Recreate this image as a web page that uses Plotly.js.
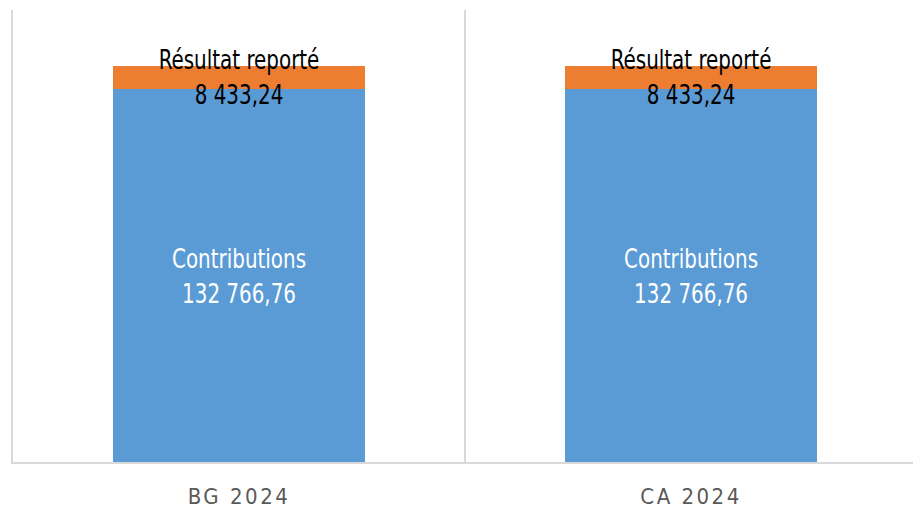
<!DOCTYPE html>
<html>
<head>
<meta charset="utf-8">
<script src="https://cdn.plot.ly/plotly-3.0.1.min.js"></script>
<style>
html, body { margin: 0; padding: 0; background: #fff; }
#chart .xtick text { letter-spacing: 2.5px; }
</style>
</head>
<body>
<div id="chart" style="width:913px;height:509px;"></div>
<script>
const categories = ["BG 2024", "CA 2024"];
const contributions = [132766.76, 132766.76];
const resultatReporte = [8433.24, 8433.24];
const seriesNames = ["Contributions", "Résultat reporté"];

const FONT = '"DejaVu Sans Condensed", "Liberation Sans", sans-serif';

function barTrace(values, name, color, textColor) {
  return {
    type: 'bar',
    name: name,
    x: categories,
    y: values,
    text: categories.map(() => name),
    marker: { color: color },
    width: 0.557,
    texttemplate: '%{text}<br>%{y:,.2f}',
    textposition: 'inside',
    insidetextanchor: 'middle',
    constraintext: 'none',
    textfont: { family: FONT, size: 27, color: textColor },
    cliponaxis: false,
    hoverinfo: 'none'
  };
}

const traces = [
  barTrace(contributions, seriesNames[0], '#5b9bd5', '#ffffff'),
  barTrace(resultatReporte, seriesNames[1], '#ed7d31', '#000000')
];

const layout = {
  width: 913,
  height: 509,
  barmode: 'stack',
  separators: ', ',
  showlegend: false,
  margin: { l: 13, r: 0, t: 10, b: 47 },
  paper_bgcolor: '#ffffff',
  plot_bgcolor: '#ffffff',
  font: { family: FONT },
  xaxis: {
    type: 'category',
    range: [-0.5, 1.491],
    tickson: 'boundaries',
    showgrid: true,
    gridcolor: '#d9d9d9',
    gridwidth: 2,
    showline: true,
    linecolor: '#d9d9d9',
    linewidth: 2,
    ticks: '',
    ticklabelstandoff: 14,
    tickfont: { family: FONT, size: 22, color: '#595959' },
    fixedrange: true
  },
  yaxis: {
    range: [0, 161000],
    showgrid: false,
    zeroline: false,
    showline: true,
    linecolor: '#d9d9d9',
    linewidth: 2,
    showticklabels: false,
    ticks: '',
    fixedrange: true
  }
};

Plotly.newPlot('chart', traces, layout, { displayModeBar: false, staticPlot: true }).then(function (gd) {
  // narrow the condensed glyphs horizontally to mimic the reference's narrow font
  gd.querySelectorAll('.bartext').forEach(function (t) {
    const bb = t.getBBox();
    const cx = bb.x + bb.width / 2;
    const tr = t.getAttribute('transform') || '';
    t.setAttribute('transform', tr + ' translate(' + cx + ',0) scale(0.82,1) translate(' + (-cx) + ',0)');
  });
});
</script>
</body>
</html>
